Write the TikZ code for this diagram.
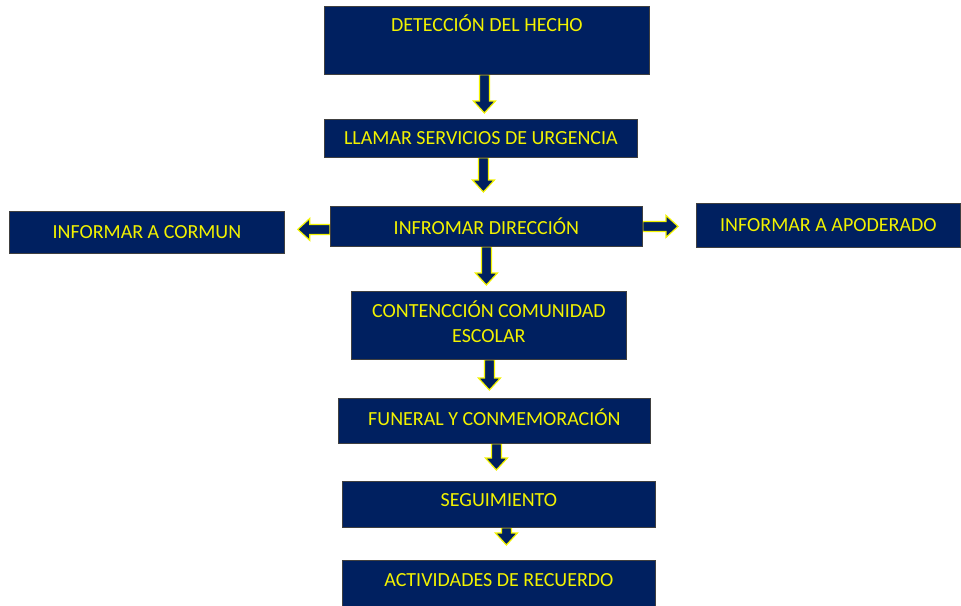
\documentclass[tikz,border=0pt]{standalone}
\usepackage{fontspec}
\setmainfont{Carlito}
\usetikzlibrary{calc,backgrounds}
\definecolor{navy}{HTML}{002060}
\definecolor{yel}{HTML}{F2F200}
\tikzset{
  box/.style={draw=black!75, line width=0.8pt, fill=navy, text=yel,
    font=\fontsize{20}{25}\selectfont, anchor=north west, inner sep=0pt, align=center},
  arr/.style={fill=navy, draw=yel, line width=1.2pt, line join=miter}
}
% down arrow: #1 start node, #2 end node, #3 dx, #4 gap
\newcommand\downarr[4]{%
  \draw[arr] let \p1=($(#1.south)+(#3,0)$), \p2=(#2.north) in
    (\x1-5pt,\y1) -- (\x1-5pt,\y2+#4pt+12pt) -- (\x1-11pt,\y2+#4pt+12pt) --
    (\x1,\y2+#4pt) -- (\x1+11pt,\y2+#4pt+12pt) -- (\x1+5pt,\y2+#4pt+12pt) --
    (\x1+5pt,\y1) -- cycle;}
\begin{document}
\begin{tikzpicture}[x=1pt,y=-1pt]
\useasboundingbox (0,0) rectangle (961,605);
\clip (0,0) rectangle (961,605);
\node[box, minimum width=325pt, minimum height=68pt, text height=13pt, text depth=31pt] (b1) at (324,6) {DETECCIÓN DEL HECHO};
\node[box, minimum width=313pt, minimum height=38pt] (b2) at (324,119) {LLAMAR SERVICIOS DE URGENCIA};
\node[box, minimum width=312pt, minimum height=40pt] (b3) at (330,206) {INFROMAR DIRECCIÓN};
\node[box, minimum width=275pt, minimum height=42pt] (b4) at (9,211) {INFORMAR A CORMUN};
\node[box, minimum width=264pt, minimum height=44pt] (b5) at (696,203) {INFORMAR A APODERADO};
\node[box, minimum width=275pt, minimum height=68pt, text depth=8pt] (b6) at (351,291) {CONTENCCIÓN COMUNIDAD\\ESCOLAR};
\node[box, minimum width=312pt, minimum height=45pt, text depth=8pt] (b7) at (338,398) {FUNERAL Y CONMEMORACIÓN};
\node[box, minimum width=313pt, minimum height=46pt, text depth=8pt] (b8) at (342,481) {SEGUIMIENTO};
\node[box, minimum width=313pt, minimum height=50pt, text depth=10pt] (b9) at (342,560) {ACTIVIDADES DE RECUERDO};
\begin{pgfonlayer}{background}
\downarr{b1}{b2}{-2.5}{6}
\downarr{b2}{b3}{2.5}{14}
\downarr{b3}{b6}{0}{6}
\downarr{b6}{b7}{0.5}{8}
\downarr{b7}{b8}{2}{11}
\downarr{b8}{b9}{7.5}{15}
% left arrow
\draw[arr] let \p1=($(b3.west)+(0,3)$), \p2=(b4.east) in
  (\x1,\y1+5pt) -- (\x2+13pt+12pt,\y1+5pt) -- (\x2+13pt+12pt,\y1+11pt) --
  (\x2+13pt,\y1) -- (\x2+13pt+12pt,\y1-11pt) -- (\x2+13pt+12pt,\y1-5pt) --
  (\x1,\y1-5pt) -- cycle;
% right arrow
\draw[arr] let \p1=(b3.east), \p2=(b5.west) in
  (\x1,\y1+5pt) -- (\x2-18pt-12pt,\y1+5pt) -- (\x2-18pt-12pt,\y1+11pt) --
  (\x2-18pt,\y1) -- (\x2-18pt-12pt,\y1-11pt) -- (\x2-18pt-12pt,\y1-5pt) --
  (\x1,\y1-5pt) -- cycle;
\end{pgfonlayer}
\end{tikzpicture}
\end{document}
